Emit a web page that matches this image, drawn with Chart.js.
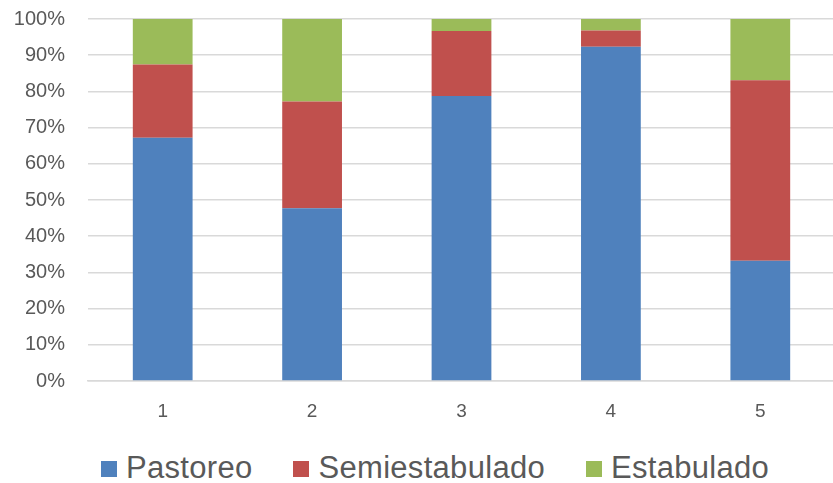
<!DOCTYPE html>
<html>
<head>
<meta charset="utf-8">
<script src="https://cdn.jsdelivr.net/npm/chart.js@4.4.1/dist/chart.umd.min.js"></script>
<style>
  html, body { margin: 0; padding: 0; background: #fff; }
  #wrap { width: 833px; height: 483px; position: relative; overflow: hidden; }
  #plot { width: 835px; height: 456px; position: absolute; left: 0; top: -16px; }
  #legend {
    position: absolute; left: 101px; top: 452px;
    display: flex; align-items: center;
    font-family: 'Liberation Sans', Arial, sans-serif; font-size: 31px; line-height: 31px;
    letter-spacing: 0.3px;
    color: #595959; white-space: nowrap;
  }
  .item { display: flex; align-items: center; margin-right: 41px; }
  .box { width: 16px; height: 16px; margin-right: 9px; margin-top: 2px; }
</style>
</head>
<body>
<div id="wrap">
  <div id="plot"><canvas id="chart"></canvas></div>
  <div id="legend"></div>
</div>
<script>
const categories = ['1', '2', '3', '4', '5'];
const pastoreo = [67.2, 47.7, 78.7, 92.3, 33.2];
const semiestabulado = [20.2, 29.5, 18.0, 4.5, 49.9];
const estabulado = [12.6, 22.8, 3.3, 3.2, 16.9];
const yTicks = [0, 10, 20, 30, 40, 50, 60, 70, 80, 90, 100];

const grey = '#595959';

const chart = new Chart(document.getElementById('chart'), {
  type: 'bar',
  data: {
    labels: categories,
    datasets: [
      { label: 'Pastoreo', data: pastoreo, backgroundColor: '#4f81bd' },
      { label: 'Semiestabulado', data: semiestabulado, backgroundColor: '#c0504d' },
      { label: 'Estabulado', data: estabulado, backgroundColor: '#9bbb59' }
    ]
  },
  options: {
    responsive: true,
    maintainAspectRatio: false,
    animation: false,
    layout: { padding: 0 },
    datasets: { bar: { barPercentage: 0.4, categoryPercentage: 1.0 } },
    scales: {
      x: {
        stacked: true,
        grid: { display: false, drawTicks: false },
        border: { display: true, color: '#d9d9d9', width: 1.5 },
        ticks: { color: grey, font: { family: 'Liberation Sans', size: 19 }, padding: 19 },
        afterFit: (s) => { s.height = 59; }
      },
      y: {
        stacked: true,
        min: 0,
        max: 100,
        afterBuildTicks: (s) => { s.ticks = yTicks.map(v => ({ value: v })); },
        grid: { color: '#d9d9d9', lineWidth: 1.5, drawTicks: false },
        border: { display: false },
        ticks: {
          color: grey,
          font: { family: 'Liberation Sans', size: 20 },
          padding: 23,
          callback: (v) => v + '%'
        },
        afterFit: (s) => { s.width = 88; }
      }
    },
    plugins: {
      tooltip: { enabled: false },
      legend: { display: false }
    }
  }
});

// legend built from the chart's own datasets
const legendEl = document.getElementById('legend');
chart.data.datasets.forEach((ds, i) => {
  const item = document.createElement('div');
  item.className = 'item';
  if (i === chart.data.datasets.length - 1) item.style.marginRight = '0';
  const box = document.createElement('span');
  box.className = 'box';
  box.style.background = ds.backgroundColor;
  const txt = document.createElement('span');
  txt.textContent = ds.label;
  item.appendChild(box);
  item.appendChild(txt);
  legendEl.appendChild(item);
});
</script>
</body>
</html>
